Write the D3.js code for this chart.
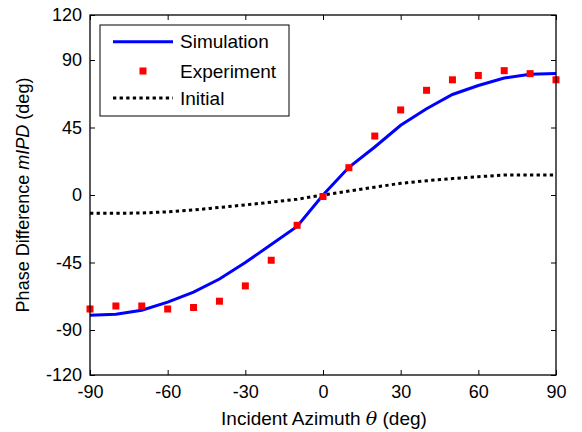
<!DOCTYPE html>
<html><head><meta charset="utf-8">
<script src="https://cdn.jsdelivr.net/npm/d3@7"></script>
<style>
body{margin:0;background:#fff;}
text{font-family:"Liberation Sans",Arial,sans-serif;fill:#000;}
</style></head>
<body>
<svg id="c" width="582" height="432"></svg>
<script>
const angles = [-90,-80,-70,-60,-50,-40,-30,-20,-10,0,10,20,30,40,50,60,70,80,90];
const simulation = [-80.2,-79.5,-76.8,-71.4,-64.7,-56,-45,-33,-21,0,18.5,32,46.5,57.5,67,73,78,80.5,81];
const experiment = [-76,-74,-74,-76,-75,-70.8,-60.6,-43.5,-20.2,-1,18.2,39.3,56.7,69.8,76.8,79.7,82.9,80.9,76.8];
const initial = [-12.2,-12.2,-12,-11.2,-10,-8.3,-6.6,-4.8,-2.8,0,2.6,5.2,7.8,9.5,11,12.2,13.3,13.3,13.3];
const xTicks = [-90,-60,-30,0,30,60,90];
const yTicks = [-120,-90,-45,0,45,90,120];

const svg = d3.select("#c");
const L=90,R=556,T=15,B=375;
const x = d3.scaleLinear().domain([-90,90]).range([L,R]);
const y = d3.scaleLinear().domain([-120,120]).range([B,T]);
const fmt = d => String(d);

const g = svg.append("g");
const tl = 5;
g.append("g").attr("transform",`translate(0,${B})`)
 .call(d3.axisBottom(x).tickValues(xTicks).tickFormat(fmt).tickSizeInner(-tl).tickSizeOuter(0))
 .call(a=>{a.select(".domain").remove();a.selectAll("text").attr("font-size",18).attr("y",23).attr("dy",null);});
g.append("g").attr("transform",`translate(0,${T})`)
 .call(d3.axisTop(x).tickValues(xTicks).tickSizeInner(-tl).tickSizeOuter(0).tickFormat(""))
 .call(a=>a.select(".domain").remove());
g.append("g").attr("transform",`translate(${L},0)`)
 .call(d3.axisLeft(y).tickValues(yTicks).tickFormat(fmt).tickSizeInner(-tl).tickSizeOuter(0).tickPadding(8))
 .call(a=>{a.select(".domain").remove();a.selectAll("text").attr("font-size",18);});
g.append("g").attr("transform",`translate(${R},0)`)
 .call(d3.axisRight(y).tickValues(yTicks).tickSizeInner(-tl).tickSizeOuter(0).tickFormat(""))
 .call(a=>a.select(".domain").remove());
g.selectAll(".tick line").attr("stroke","#000");

const data = angles.map((a,i)=>({a,s:simulation[i],e:experiment[i],n:initial[i]}));

svg.append("path").datum(data)
 .attr("d",d3.line().x(d=>x(d.a)).y(d=>y(d.n)))
 .attr("fill","none").attr("stroke","#000").attr("stroke-width",3).attr("stroke-dasharray","3.3,3.3");
svg.append("path").datum(data)
 .attr("d",d3.line().x(d=>x(d.a)).y(d=>y(d.s)))
 .attr("fill","none").attr("stroke","#0000ff").attr("stroke-width",3);
const sq=7;
svg.selectAll("rect.exp").data(data).enter().append("rect").attr("class","exp")
 .attr("x",d=>x(d.a)-sq/2).attr("y",d=>y(d.e)-sq/2).attr("width",sq).attr("height",sq)
 .attr("fill","#ff0000");

svg.append("rect").attr("x",L).attr("y",T).attr("width",R-L).attr("height",B-T)
 .attr("fill","none").attr("stroke","#000").attr("stroke-width",1.3);

const lg = svg.append("g");
lg.append("rect").attr("x",100).attr("y",25).attr("width",189).attr("height",91)
 .attr("fill","#fff").attr("stroke","#000").attr("stroke-width",1);
lg.append("line").attr("x1",113).attr("x2",173).attr("y1",41.7).attr("y2",41.7)
 .attr("stroke","#0000ff").attr("stroke-width",3);
lg.append("rect").attr("x",143-sq/2).attr("y",71-sq/2).attr("width",sq).attr("height",sq).attr("fill","#ff0000");
lg.append("line").attr("x1",113).attr("x2",173).attr("y1",98).attr("y2",98)
 .attr("stroke","#000").attr("stroke-width",3).attr("stroke-dasharray","3.3,3.3");
[["Simulation",41.7],["Experiment",71],["Initial",98]].forEach(([t,yy])=>{
  lg.append("text").attr("x",180).attr("y",yy).attr("dy","0.35em").attr("font-size",19).text(t);
});

const xt = svg.append("text").attr("x",(L+R)/2+1).attr("y",425).attr("text-anchor","middle").attr("font-size",19);
xt.append("tspan").text("Incident Azimuth ");
xt.append("tspan").attr("font-style","italic").attr("font-family","DejaVu Serif").text("θ");
xt.append("tspan").text(" (deg)");
const yt = svg.append("text").attr("transform",`translate(29,${(T+B)/2}) rotate(-90)`).attr("text-anchor","middle").attr("font-size",18);
yt.append("tspan").text("Phase Difference ");
yt.append("tspan").attr("font-style","italic").text("mIPD");
yt.append("tspan").text(" (deg)");
</script>
</body></html>
